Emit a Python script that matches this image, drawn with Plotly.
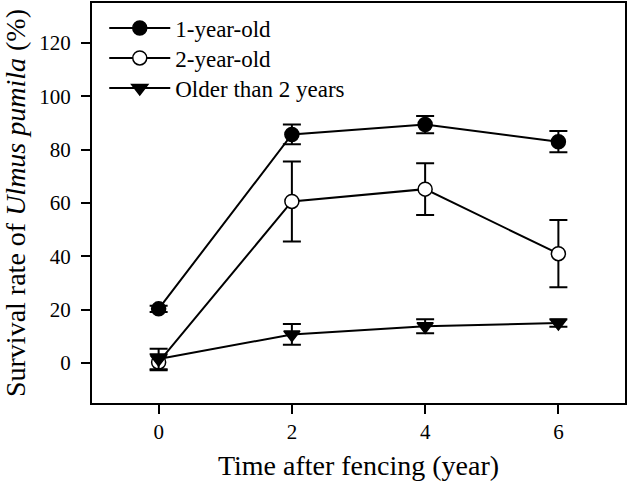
import plotly.graph_objects as go

years = [0, 2, 4, 6]
one_year = [20.3, 85.7, 89.4, 83.0]
one_year_err = [1.2, 3.7, 3.2, 4.0]
two_year = [0.3, 60.6, 65.2, 41.0]
two_year_err = [3.0, 15.0, 9.7, 12.6]
older = [1.5, 10.7, 13.8, 15.0]
older_err = [3.8, 3.9, 2.6, 1.4]
series_names = ["1-year-old", "2-year-old", "Older than 2 years"]

font_family = "Liberation Serif, Times New Roman, serif"

def trace(name, y, err, symbol, fill, legend):
    return go.Scatter(
        x=years, y=y, name=name, mode="lines+markers", legend=legend,
        line=dict(color="black", width=2),
        marker=dict(symbol=symbol, size=14, color=fill,
                    line=dict(color="black", width=1.5)),
        error_y=dict(type="data", array=err, visible=True,
                     color="black", thickness=2, width=9),
    )

fig = go.Figure()
fig.add_trace(trace(series_names[0], one_year, one_year_err, "circle", "black", "legend"))
fig.add_trace(trace(series_names[1], two_year, two_year_err, "circle", "white", "legend2"))
fig.add_trace(trace(series_names[2], older, older_err, "triangle-down", "black", "legend3"))

axis_common = dict(
    showline=True, linecolor="black", linewidth=2, mirror=True,
    ticks="outside", ticklen=9, tickwidth=2, tickcolor="black",
    showgrid=False, zeroline=False, automargin=False,
    tickfont=dict(family=font_family, size=21, color="black"),
)

def legend_box(y):
    return dict(x=0.023, y=y, xanchor="left", yanchor="middle",
                bgcolor="rgba(0,0,0,0)",
                font=dict(family=font_family, size=23, color="black"),
                itemwidth=61)

fig.update_layout(
    width=628, height=481,
    margin=dict(l=92, r=3, t=3, b=78, autoexpand=False),
    paper_bgcolor="white", plot_bgcolor="white",
    font=dict(family=font_family, color="black"),
    showlegend=True,
    legend=legend_box(0.9375),
    legend2=legend_box(0.8625),
    legend3=legend_box(0.7875),
    xaxis=dict(range=[-1, 7], tickvals=[0, 2, 4, 6],
               title=dict(text="Time after fencing (year)",
                          font=dict(family=font_family, size=28, color="black")),
               **axis_common),
    yaxis=dict(range=[-15, 135], tickvals=[0, 20, 40, 60, 80, 100, 120],
               ticklabelstandoff=6,
               title=dict(text="Survival rate of <i>Ulmus pumila</i> (%)",
                          font=dict(family=font_family, size=28, color="black")),
               **axis_common),
)

fig.write_html("out.html", config={"displayModeBar": False},
               post_script="document.body.style.margin='0';")
